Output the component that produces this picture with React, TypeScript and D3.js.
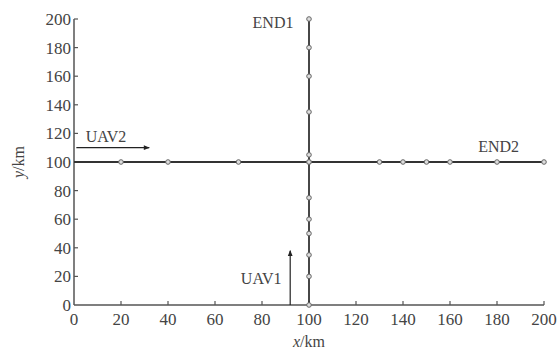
import { useEffect, useRef } from 'react';
import * as d3 from 'd3';

const width = 560;
const height = 351;

// UAV2 flies along y = 100 from left to right
const uav2X = [0, 20, 40, 70, 100, 130, 140, 150, 160, 180, 200];
const uav2Y = 100;
// UAV1 flies along x = 100 from bottom to top
const uav1Y = [0, 20, 35, 50, 60, 75, 100, 105, 135, 160, 180, 200];
const uav1X = 100;

const xTicks = [0, 20, 40, 60, 80, 100, 120, 140, 160, 180, 200];
const yTicks = [0, 20, 40, 60, 80, 100, 120, 140, 160, 180, 200];

// direction arrows [x1, y1, x2, y2]
const arrowUav2 = [1, 110, 32, 110];
const arrowUav1 = [92, 0, 92, 38];

export default function App() {
  const svgRef = useRef<SVGSVGElement>(null);

  useEffect(() => {
    if (!svgRef.current) return;
    const svg = d3.select(svgRef.current);
    svg.selectAll('*').remove();

    const margin = { left: 74, right: 16, top: 19, bottom: 46 };
    const x = d3.scaleLinear().domain([0, 200]).range([margin.left, width - margin.right]);
    const y = d3.scaleLinear().domain([0, 200]).range([height - margin.bottom, margin.top]);

    const font = '"Liberation Serif", "Times New Roman", serif';
    const axisColor = '#555';
    const textColor = '#444';

    const defs = svg.append('defs');
    defs.append('marker')
      .attr('id', 'arrow')
      .attr('viewBox', '0 0 10 10')
      .attr('refX', 9)
      .attr('refY', 5)
      .attr('markerWidth', 7)
      .attr('markerHeight', 5)
      .attr('orient', 'auto')
      .append('path')
      .attr('d', 'M0,1 L10,5 L0,9 Z')
      .attr('fill', '#222');

    // axes lines
    svg.append('line')
      .attr('x1', x(0)).attr('x2', x(200))
      .attr('y1', y(0)).attr('y2', y(0))
      .attr('stroke', axisColor).attr('stroke-width', 1.5);
    svg.append('line')
      .attr('x1', x(0)).attr('x2', x(0))
      .attr('y1', y(0)).attr('y2', y(200))
      .attr('stroke', axisColor).attr('stroke-width', 1.5);

    // x ticks
    svg.selectAll('.xt')
      .data(xTicks.slice(1))
      .enter()
      .append('line')
      .attr('x1', d => x(d)).attr('x2', d => x(d))
      .attr('y1', y(0)).attr('y2', y(0) - 4)
      .attr('stroke', axisColor).attr('stroke-width', 1.2);
    svg.selectAll('.xl')
      .data(xTicks)
      .enter()
      .append('text')
      .attr('x', d => x(d))
      .attr('y', y(0) + 20)
      .attr('text-anchor', 'middle')
      .attr('font-family', font)
      .attr('font-size', 17)
      .attr('fill', textColor)
      .text(d => d);

    // y ticks
    svg.selectAll('.yt')
      .data(yTicks.slice(1))
      .enter()
      .append('line')
      .attr('x1', x(0)).attr('x2', x(0) + 4)
      .attr('y1', d => y(d)).attr('y2', d => y(d))
      .attr('stroke', axisColor).attr('stroke-width', 1.2);
    svg.selectAll('.yl')
      .data(yTicks)
      .enter()
      .append('text')
      .attr('x', x(0) - 3)
      .attr('y', d => y(d) + 6)
      .attr('text-anchor', 'end')
      .attr('font-family', font)
      .attr('font-size', 17)
      .attr('fill', textColor)
      .text(d => d);

    // axis titles
    const xt = svg.append('text')
      .attr('x', x(100))
      .attr('y', height - 4)
      .attr('text-anchor', 'middle')
      .attr('font-family', font)
      .attr('font-size', 16)
      .attr('fill', textColor);
    xt.append('tspan').attr('font-style', 'italic').text('x');
    xt.append('tspan').text('/km');

    const yt = svg.append('text')
      .attr('transform', `translate(24, ${y(100)}) rotate(-90)`)
      .attr('text-anchor', 'middle')
      .attr('font-family', font)
      .attr('font-size', 16)
      .attr('fill', textColor);
    yt.append('tspan').attr('font-style', 'italic').text('y');
    yt.append('tspan').text('/km');

    // trajectories
    const line = d3.line<[number, number]>().x(d => x(d[0])).y(d => y(d[1]));
    const h: [number, number][] = uav2X.map(v => [v, uav2Y]);
    const v: [number, number][] = uav1Y.map(d => [uav1X, d]);

    svg.append('path')
      .attr('d', line(h) || '')
      .attr('fill', 'none')
      .attr('stroke', '#333')
      .attr('stroke-width', 1.8);
    svg.append('path')
      .attr('d', line(v) || '')
      .attr('fill', 'none')
      .attr('stroke', '#333')
      .attr('stroke-width', 1.8);

    const pts = [...h.slice(1), ...v];
    svg.selectAll('.pt')
      .data(pts)
      .enter()
      .append('circle')
      .attr('cx', d => x(d[0]))
      .attr('cy', d => y(d[1]))
      .attr('r', 2.3)
      .attr('fill', '#ddd')
      .attr('stroke', '#666')
      .attr('stroke-width', 1);

    // arrows
    svg.append('line')
      .attr('x1', x(arrowUav2[0])).attr('y1', y(arrowUav2[1]))
      .attr('x2', x(arrowUav2[2])).attr('y2', y(arrowUav2[3]))
      .attr('stroke', '#222').attr('stroke-width', 1.2)
      .attr('marker-end', 'url(#arrow)');
    svg.append('line')
      .attr('x1', x(arrowUav1[0])).attr('y1', y(arrowUav1[1]))
      .attr('x2', x(arrowUav1[2])).attr('y2', y(arrowUav1[3]))
      .attr('stroke', '#222').attr('stroke-width', 1.2)
      .attr('marker-end', 'url(#arrow)');

    // labels
    const lab = (tx: number, ty: number, s: string) =>
      svg.append('text')
        .attr('x', x(tx)).attr('y', y(ty))
        .attr('font-family', font)
        .attr('font-size', 16)
        .attr('fill', textColor)
        .text(s);
    lab(5, 114, 'UAV2');
    lab(71, 15, 'UAV1');
    lab(76, 194, 'END1');
    lab(172, 107, 'END2');
  }, []);

  return (
    <svg
      ref={svgRef}
      width={width}
      height={height}
      style={{ display: 'block', position: 'absolute', left: 0, top: 0, background: '#fff' }}
    />
  );
}
